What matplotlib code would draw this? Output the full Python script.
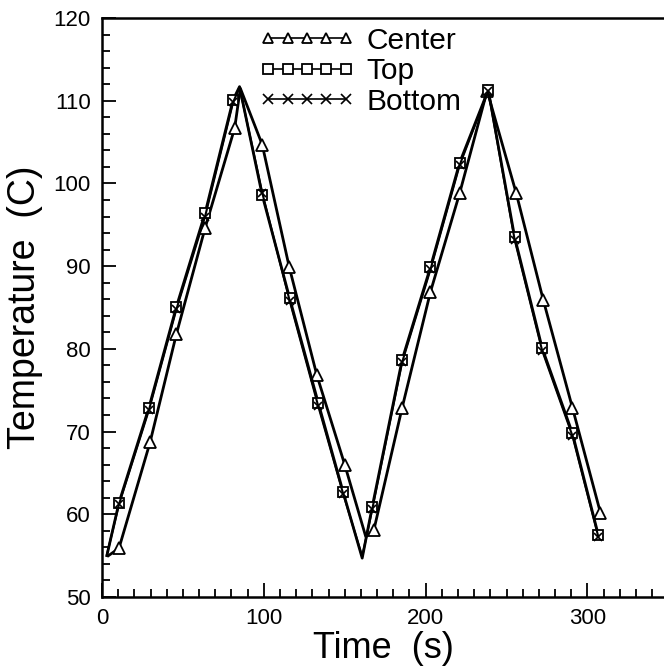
import numpy as np
import matplotlib.pyplot as plt
from matplotlib.ticker import MultipleLocator

t_center = [4, 10.5, 29.7, 46, 63.7, 82, 85.5, 99, 115.7, 132.8, 150, 163, 168,
            185.5, 203, 221, 238, 256, 272.7, 290.7, 308]
T_center = [55.0, 55.9, 68.7, 81.8, 94.6, 106.7, 111.5, 104.7, 89.9, 76.8, 66.0, 57.3, 58.1,
            72.9, 86.9, 98.8, 111.2, 98.8, 85.9, 72.9, 60.2]

t_top = [3, 10.5, 29, 46, 63.7, 81, 85, 99, 116, 133.6, 149, 160.8, 167,
         185.5, 203, 221, 238.7, 255, 272, 290.7, 306.7]
T_top = [55.0, 61.4, 72.9, 85.1, 96.4, 110.1, 111.7, 98.6, 86.1, 73.5, 62.7, 54.7, 60.9,
         78.7, 89.9, 102.5, 111.3, 93.5, 80.1, 69.8, 57.5]

t_bottom = [3, 10.5, 29, 46, 63.7, 81, 85, 99, 116, 133.6, 149, 160.8, 167,
            185.5, 203, 221, 238.7, 255, 272, 290.7, 306.7]
T_bottom = [55.1, 61.2, 72.6, 84.8, 96.0, 109.8, 111.6, 98.9, 85.8, 73.1, 62.5, 54.9, 60.6,
            78.4, 89.6, 102.2, 111.2, 93.2, 79.8, 69.5, 57.3]

mark_idx = [i for i in range(len(t_top)) if i not in (0, 6, 11)]

plt.rcParams['font.family'] = ['Liberation Sans', 'DejaVu Sans']

fig = plt.figure(figsize=(6.64, 6.69), dpi=100)
ax = fig.add_axes([0.1536, 0.1076, 0.8464, 0.8655])

ax.plot(t_center, T_center, color='black', lw=2, marker='^', ms=8.5, mfc='white',
        mec='black', mew=1.3, markevery=mark_idx, label='Center')
ax.plot(t_top, T_top, color='black', lw=2, marker='s', ms=7.5, mfc='white',
        mec='black', mew=1.3, markevery=mark_idx, label='Top')
ax.plot(t_bottom, T_bottom, color='black', lw=1.5, marker='x', ms=5.5,
        mec='black', mew=1.2, markevery=mark_idx, label='Bottom')

ax.set_xlim(0, 347.3)
ax.set_ylim(50, 120)
ax.xaxis.set_major_locator(MultipleLocator(100))
ax.xaxis.set_minor_locator(MultipleLocator(10))
ax.yaxis.set_major_locator(MultipleLocator(10))
ax.yaxis.set_minor_locator(MultipleLocator(2))
ax.tick_params(which='both', direction='in', width=1.3, labelsize=16, top=False, right=False)
ax.tick_params(which='major', length=10, pad=8)
ax.tick_params(which='minor', length=6)
for s in ax.spines.values():
    s.set_linewidth(1.8)
ax.spines['right'].set_visible(False)

ax.set_xlabel('Time  (s)', fontsize=26, va='top')
ax.xaxis.set_label_coords(0.5, -0.058)
ax.set_ylabel('Temperature  (C)', fontsize=27)
ax.yaxis.set_label_coords(-0.105, 0.5)

leg = ax.legend(loc='upper left', bbox_to_anchor=(0.2745, 0.99), frameon=False, numpoints=5,
                handlelength=3.2, handletextpad=0.4, labelspacing=0.08, fontsize=21.5,
                borderaxespad=0.0, borderpad=0.1)
for h in leg.legend_handles:
    h.set_markersize(6.5)
    h.set_linewidth(1.2)

fig.savefig('out.png', dpi=100)
